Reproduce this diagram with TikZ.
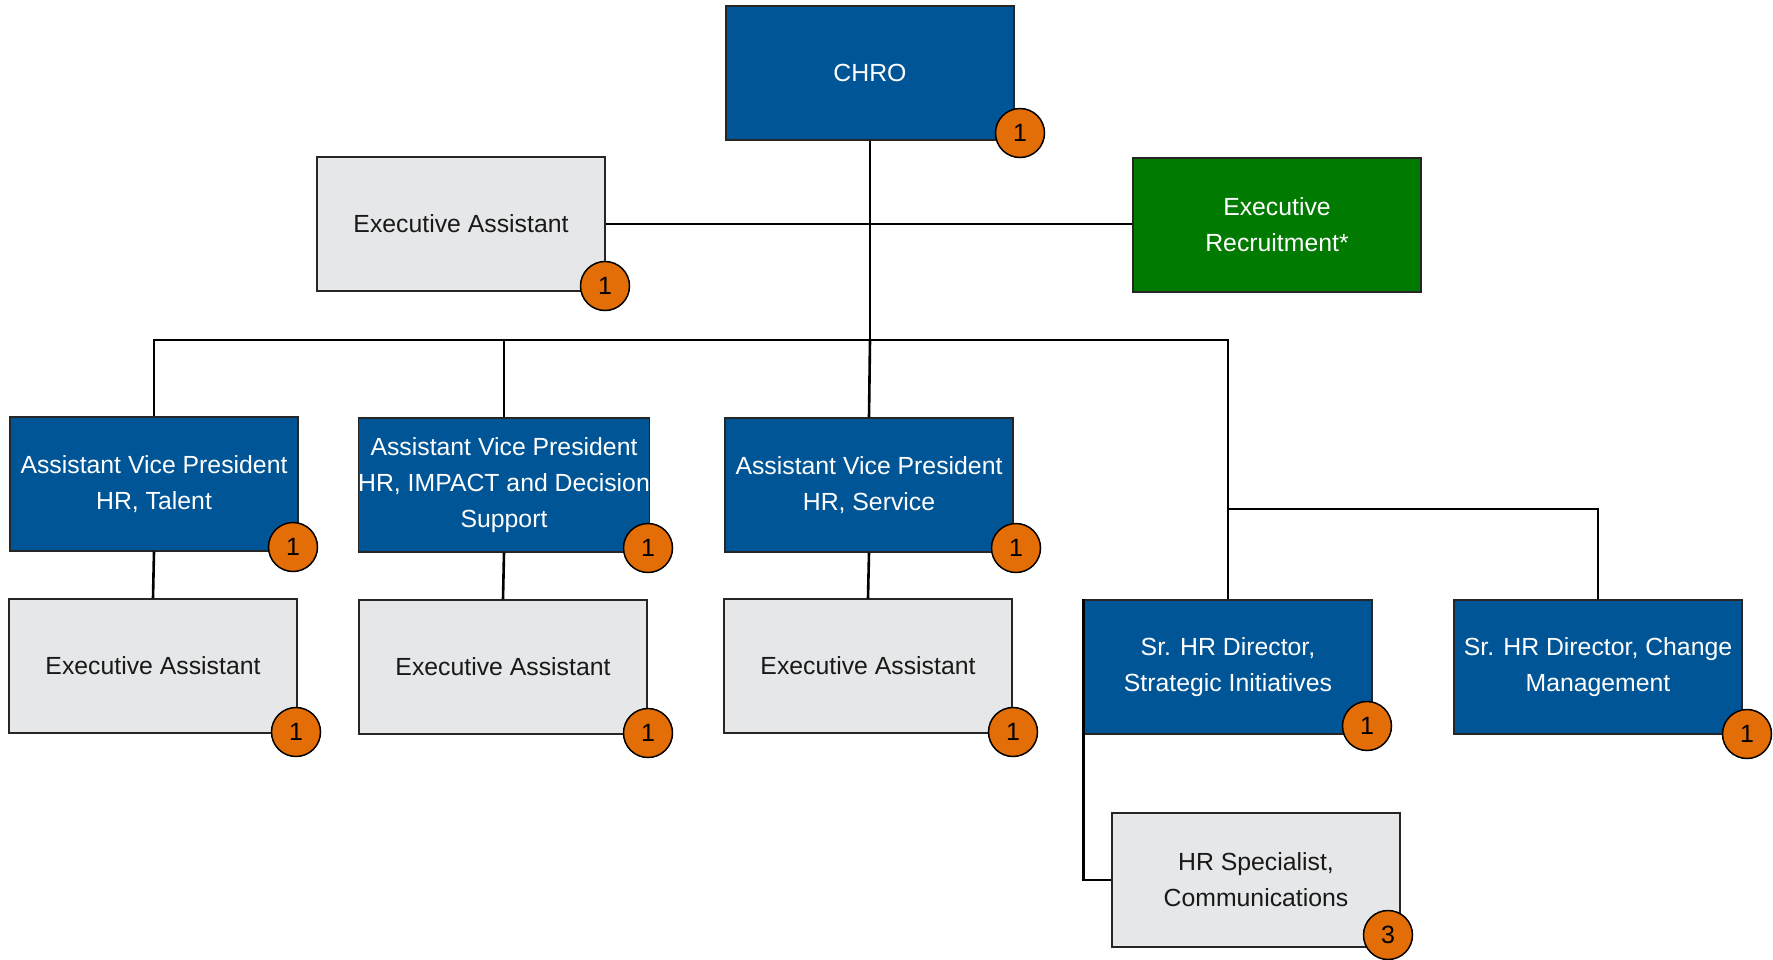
\documentclass[tikz,border=0pt]{standalone}
\usepackage{fontspec}
\setmainfont{Liberation Sans}
\definecolor{orgblue}{RGB}{0,85,150}
\definecolor{orggreen}{RGB}{0,122,0}
\definecolor{orggray}{RGB}{230,231,232}
\definecolor{badgeorange}{RGB}{227,110,8}
\begin{document}
\begin{tikzpicture}[x=1pt,y=-1pt,
  box/.style={rectangle, draw=black!85, line width=1.2pt,
    minimum width=288pt, minimum height=134pt, inner sep=0pt,
    align=center, font=\fontsize{24.8}{36}\selectfont},
  leadbox/.style={box, fill=orgblue, text=white},
  greenbox/.style={box, fill=orggreen, text=white},
  staffbox/.style={box, fill=orggray, text=black!90},
  badge/.style={circle, draw=black, line width=1.5pt, fill=badgeorange,
    minimum size=49pt, inner sep=0pt, font=\fontsize{25}{25}\selectfont},
  link/.style={draw=black, line width=2.6pt}
]
\useasboundingbox (0,0) rectangle (1773,959);

% top level
\node[leadbox]  (chro) at (870,73)    {CHRO};
\node[staffbox] (ea0)  at (461,224)   {Executive Assistant};
\node[greenbox] (rec)  at (1277,225)  {Executive\\Recruitment*};

% assistant vice presidents
\node[leadbox] (avpt) at (154,484)  {Assistant Vice President\\HR, Talent};
\node[leadbox] (avpi) at (504,485)  {Assistant Vice President\\HR, IMPACT and Decision\\Support};
\node[leadbox] (avps) at (869,485)  {Assistant Vice President\\HR, Service};

% executive assistants
\node[staffbox] (ea1) at (153,666) {Executive Assistant};
\node[staffbox] (ea2) at (503,667) {Executive Assistant};
\node[staffbox] (ea3) at (868,666) {Executive Assistant};

% senior directors and specialist
\node[leadbox]  (srsi) at (1228,667) {Sr. HR Director,\\Strategic Initiatives};
\node[leadbox]  (srcm) at (1598,667) {Sr. HR Director, Change\\Management};
\node[staffbox] (spec) at (1256,880) {HR Specialist,\\Communications};

% reporting lines
\coordinate (bus)  at (870,340);
\coordinate (fork) at (1228,509);
\draw[link] (chro.south) -- (bus);
\draw[link] (ea0.east) -- (ea0.east -| rec.west);
\draw[link] (avpt.north) |- (bus) -| (srsi.north);
\draw[link] (avpi.north) -- (avpi.north |- bus);
\draw[link] (bus) -- (avps.north);
\draw[link] (fork) -| (srcm.north);
\draw[link] (avpt.south) -- (ea1.north);
\draw[link] (avpi.south) -- (ea2.north);
\draw[link] (avps.south) -- (ea3.north);
\draw[link] (srsi.north west) |- (spec.west);

% headcount badges
\node[badge] (n0)  at (1020,133) {1};
\node[badge] (n1)  at (605,286)  {1};
\node[badge] (n2)  at (293,547)  {1};
\node[badge] (n3)  at (648,548)  {1};
\node[badge] (n4)  at (1016,548) {1};
\node[badge] (n5)  at (296,732)  {1};
\node[badge] (n6)  at (648,733)  {1};
\node[badge] (n7)  at (1013,732) {1};
\node[badge] (n8)  at (1367,726) {1};
\node[badge] (n9)  at (1747,734) {1};
\node[badge] (n10) at (1388,935) {3};
\end{tikzpicture}
\end{document}
